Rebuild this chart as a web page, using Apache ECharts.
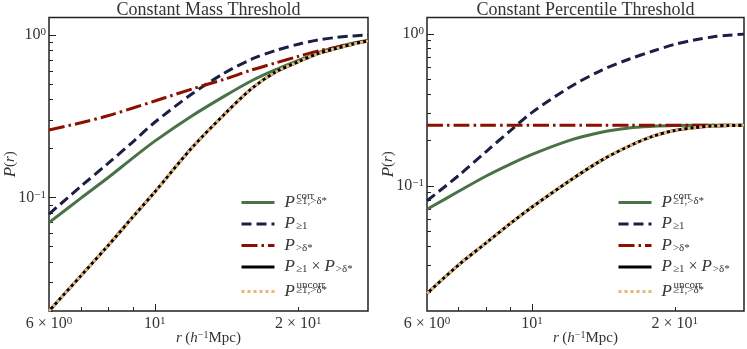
<!DOCTYPE html>
<html>
<head>
<meta charset="utf-8">
<script src="https://cdn.jsdelivr.net/npm/echarts@6/dist/echarts.min.js"></script>
<style>
  html, body { margin: 0; padding: 0; background: #fff; }
  #chart { width: 747px; height: 349px; }
</style>
</head>
<body>
<div id="chart"></div>
<script>
// r in h^-1 Mpc
const radius = [6, 7, 8, 9, 10, 12, 14, 16, 18, 20, 22, 24, 26, 28];

// constant mass threshold
const massCorr = [0.070, 0.099, 0.133, 0.175, 0.222, 0.319, 0.420, 0.524, 0.614, 0.697, 0.779, 0.841, 0.888, 0.923];
const massGe1 = [0.079, 0.117, 0.163, 0.220, 0.290, 0.436, 0.583, 0.711, 0.805, 0.877, 0.932, 0.964, 0.986, 1.0];
const massGtDelta = [0.260, 0.288, 0.319, 0.355, 0.392, 0.466, 0.534, 0.610, 0.675, 0.738, 0.798, 0.838, 0.883, 0.922];
const massProduct = [0.020, 0.033, 0.051, 0.076, 0.108, 0.204, 0.325, 0.470, 0.595, 0.683, 0.768, 0.825, 0.877, 0.917];
const massUncorr = [0.020, 0.033, 0.051, 0.076, 0.108, 0.204, 0.325, 0.470, 0.595, 0.683, 0.768, 0.825, 0.877, 0.917];

// constant percentile threshold
const pctCorr = [0.070, 0.092, 0.116, 0.139, 0.161, 0.199, 0.225, 0.240, 0.246, 0.249, 0.250, 0.250, 0.250, 0.250];
const pctGe1 = [0.0797, 0.117, 0.168, 0.231, 0.304, 0.445, 0.575, 0.680, 0.770, 0.853, 0.910, 0.953, 0.979, 0.995];
const pctGtDelta = [0.25, 0.25, 0.25, 0.25, 0.25, 0.25, 0.25, 0.25, 0.25, 0.25, 0.25, 0.25, 0.25, 0.25];
const pctProduct = [0.0196, 0.0302, 0.0421, 0.0566, 0.0725, 0.108, 0.147, 0.182, 0.212, 0.231, 0.241, 0.247, 0.249, 0.250];
const pctUncorr = [0.0196, 0.0302, 0.0421, 0.0566, 0.0725, 0.108, 0.147, 0.182, 0.212, 0.231, 0.241, 0.247, 0.249, 0.250];

const titles = ['Constant Mass Threshold', 'Constant Percentile Threshold'];
const xLabelValues = [6, 10, 20];
const xMinorTicks = [7, 8, 9, 20];
const xMajorTicks = [10];
const yLabelValues = [0.1, 1];
const yMinorTicks = [0.02, 0.03, 0.04, 0.05, 0.06, 0.07, 0.08, 0.09, 0.2, 0.3, 0.4, 0.5, 0.6, 0.7, 0.8, 0.9];
const yMajorTicks = [0.1, 1];
const yMins = [0.02, 0.015];

const legendNames = ['corr', 'ge1', 'gtd', 'prod', 'uncorr'];
const legendLabels = {
  corr: '{sp| }{sup|corr}\n{P|P}{sub|≥1,>δ*}\n{e| }',
  ge1: '{P1|P}{sub1|≥1}',
  gtd: '{P1|P}{sub1|>δ*}',
  prod: '{P1|P}{sub1|≥1}{t| × }{P0|P}{sub1|>δ*}',
  uncorr: '{sp| }{sup|uncorr}\n{P|P}{sub|≥1,>δ*}\n{e| }'
};

const serif = 'Liberation Serif';
const ink = '#222';

const styles = {
  corr: { color: '#4a7247', width: 3, type: 'solid' },
  ge1: { color: '#1c1f45', width: 3, type: [10, 5] },
  gtd: { color: '#8b1000', width: 3, type: [16, 4, 2.5, 4] },
  prod: { color: '#000000', width: 3, type: 'solid' },
  uncorr: { color: '#eab676', width: 3, type: [3, 3] }
};

const tickRich = {
  b: { fontFamily: serif, fontSize: 16, color: '#333', lineHeight: 16 },
  s: { fontFamily: serif, fontSize: 11, color: '#333', lineHeight: 9, verticalAlign: 'top' }
};

function near(a, b) { return Math.abs(a - b) < 1e-6 * b; }

function xFormatter(v) {
  if (near(v, 6)) return '{b|6 × 10}{s|0}';
  if (near(v, 10)) return '{b|10}{s|1}';
  if (near(v, 20)) return '{b|2 × 10}{s|1}';
  return '';
}
function yFormatter(v) {
  if (near(v, 1)) return '{b|10}{s|0}';
  if (near(v, 0.1)) return '{b|10}{s|−1}';
  return '';
}

const grids = [
  { left: 49, right: 379, top: 17.5, bottom: 38 },
  { left: 427, right: 3, top: 17.5, bottom: 38 }
];

let xAxes = [], yAxes = [], series = [], legends = [], titleList = [];

grids.forEach((g, gi) => {
  g.show = true;
  g.borderColor = ink;
  g.borderWidth = 1.5;
  g.backgroundColor = 'transparent';
  g.outerBoundsMode = 'none';
  g.containLabel = false;

  xAxes.push({
    type: 'log', gridIndex: gi, min: 6, max: 28, position: 'bottom',
    axisLine: { show: false }, splitLine: { show: false },
    axisTick: { inside: true, length: 4, customValues: xMinorTicks, lineStyle: { color: ink } },
    axisLabel: { customValues: xLabelValues, formatter: xFormatter, margin: 5, rich: tickRich },
    name: '{i|r} {t|(}{i|h}{s|−1}{t|Mpc)}', nameLocation: 'middle', nameGap: 19, nameMoveOverlap: false,
    nameTextStyle: { verticalAlign: 'top', rich: {
      i: { fontFamily: serif, fontStyle: 'italic', fontSize: 15, color: '#333', lineHeight: 16 },
      t: { fontFamily: serif, fontSize: 15, color: '#333', lineHeight: 16 },
      s: { fontFamily: serif, fontSize: 10, color: '#333', lineHeight: 8, verticalAlign: 'top' }
    } }
  });
  xAxes.push({
    type: 'log', gridIndex: gi, min: 6, max: 28, position: 'bottom',
    axisLine: { show: false }, splitLine: { show: false },
    axisTick: { inside: true, length: 7, customValues: xMajorTicks, lineStyle: { color: ink } },
    axisLabel: { show: false }
  });
  yAxes.push({
    type: 'log', gridIndex: gi, min: yMins[gi], max: 1.28, position: 'left',
    axisLine: { show: false }, splitLine: { show: false },
    axisTick: { inside: true, length: 4, customValues: yMinorTicks, lineStyle: { color: ink } },
    axisLabel: { customValues: yLabelValues, formatter: yFormatter, margin: 3, rich: tickRich },
    name: '{p|P}{t|(}{i|r}{t|)}', nameLocation: 'middle', nameRotate: 90, nameGap: 30, nameMoveOverlap: false,
    nameTextStyle: { verticalAlign: 'bottom', rich: {
      p: { fontFamily: serif, fontStyle: 'italic', fontSize: 17, color: '#333' },
      i: { fontFamily: serif, fontStyle: 'italic', fontSize: 15, color: '#333' },
      t: { fontFamily: serif, fontSize: 15, color: '#333' }
    } }
  });
  yAxes.push({
    type: 'log', gridIndex: gi, min: yMins[gi], max: 1.28, position: 'left',
    axisLine: { show: false }, splitLine: { show: false },
    axisTick: { inside: true, length: 7, customValues: yMajorTicks, lineStyle: { color: ink } },
    axisLabel: { show: false }
  });

  titleList.push({
    text: titles[gi], left: gi === 0 ? 208.5 : 585.5, top: 1.5, padding: 0, textAlign: 'center',
    textStyle: { fontFamily: serif, fontSize: 18, fontWeight: 'normal', color: '#333' }
  });

  legends.push({
    orient: 'vertical', left: gi === 0 ? 240 : 617, top: 191, padding: 0,
    itemGap: 4.5, itemWidth: 33, itemHeight: 16, selectedMode: false,
    data: legendNames,
    formatter: n => legendLabels[n],
    lineStyle: { width: 3 },
    itemStyle: { opacity: 0, borderWidth: 0 },
    textStyle: { rich: {
      sp: { width: 17, fontSize: 4, lineHeight: 4 },
      e: { fontSize: 4, lineHeight: 4 },
      sup: { fontFamily: serif, fontSize: 11, color: '#333', lineHeight: 4 },
      P: { fontFamily: serif, fontStyle: 'italic', fontSize: 17, color: '#333', lineHeight: 8, padding: [0, 1, 0, 5] },
      sub: { fontFamily: serif, fontSize: 11, color: '#333', lineHeight: 1, verticalAlign: 'bottom' },
      P1: { fontFamily: serif, fontStyle: 'italic', fontSize: 17, color: '#333', lineHeight: 16, padding: [0, 1, 0, 5] },
      P0: { fontFamily: serif, fontStyle: 'italic', fontSize: 17, color: '#333', lineHeight: 16, padding: [0, 1, 0, 0] },
      sub1: { fontFamily: serif, fontSize: 11, color: '#333', lineHeight: 8, verticalAlign: 'bottom' },
      t: { fontFamily: serif, fontSize: 16, color: '#333', lineHeight: 16 }
    } }
  });
});

const panels = [
  { corr: massCorr, ge1: massGe1, gtd: massGtDelta, prod: massProduct, uncorr: massUncorr },
  { corr: pctCorr, ge1: pctGe1, gtd: pctGtDelta, prod: pctProduct, uncorr: pctUncorr }
];

panels.forEach((p, gi) => {
  legendNames.forEach((name, k) => {
    series.push({
      type: 'line', name: name,
      xAxisIndex: gi * 2, yAxisIndex: gi * 2,
      data: radius.map((r, i) => [r, p[name][i]]),
      symbol: 'none', showSymbol: false, smooth: 0.3,
      lineStyle: Object.assign({ cap: 'butt' }, styles[name]),
      itemStyle: { color: styles[name].color },
      z: 2 + k
    });
  });
});

const chart = echarts.init(document.getElementById('chart'), null, { renderer: 'canvas' });
chart.setOption({
  animation: false,
  backgroundColor: '#fff',
  title: titleList,
  legend: legends,
  grid: grids,
  xAxis: xAxes,
  yAxis: yAxes,
  series: series
});
</script>
</body>
</html>
